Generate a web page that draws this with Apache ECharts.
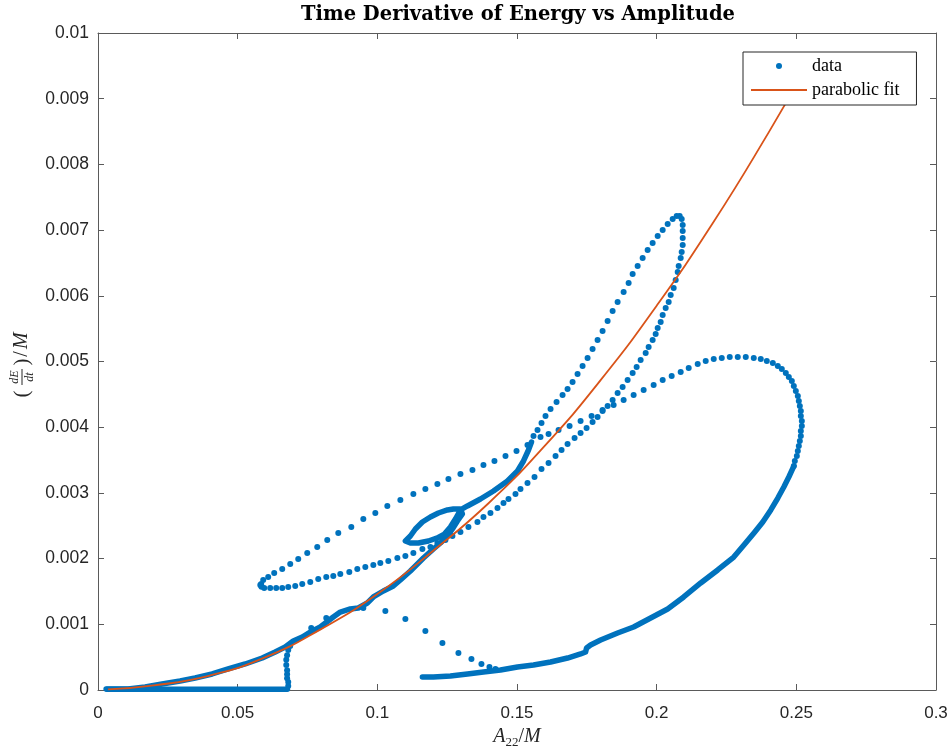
<!DOCTYPE html>
<html><head><meta charset="utf-8">
<script src="https://cdn.jsdelivr.net/npm/echarts@6/dist/echarts.min.js"></script>
<style>html,body{margin:0;padding:0;background:#fff}#c{width:949px;height:750px}</style>
</head><body><div id="c"></div>
<script>
// ---------- tick labels ----------
const xTickLabels = ['0','0.05','0.1','0.15','0.2','0.25','0.3'];
const yTickLabels = ['0','0.001','0.002','0.003','0.004','0.005','0.006','0.007','0.008','0.009','0.01'];

// ---------- parabolic fit ----------
const fitX = [0.0036,0.02,0.04,0.06,0.08,0.1,0.12,0.14,0.16,0.18,0.2,0.22,0.24,0.252];
const fitY = [0.00001,0.00007,0.00022,0.0005,0.00093,0.00146,0.00212,0.00285,0.00372,0.00472,0.00585,0.0071,0.00848,0.00937];

// ---------- data: dense stretches ----------
const flatBottom = [[0.0032,0.00001],[0.0678,0.00001]];
const mainBand = [[0.0029,0.000015],[0.0108,0.000015],[0.01685,0.000046],[0.02294,0.000091],[0.02939,0.000137],[0.03477,0.000183],[0.04086,0.000244],[0.04659,0.00032],[0.05269,0.000396],[0.05878,0.000487],[0.06344,0.000578],[0.06702,0.000654],[0.06989,0.000746],[0.07312,0.000807],[0.07599,0.000883],[0.07957,0.000959],[0.08423,0.001111],[0.08674,0.001187],[0.09032,0.001233],[0.09319,0.001248],[0.09641,0.001324],[0.09857,0.001416],[0.10215,0.001507],[0.10573,0.001583],[0.10824,0.001674],[0.11183,0.001811],[0.11649,0.002009],[0.12007,0.002146],[0.12258,0.002237],[0.12509,0.002344],[0.12688,0.002451],[0.12867,0.002572],[0.13046,0.002679],
 [0.12975,0.002755],[0.12724,0.002755],[0.12509,0.00274],[0.12186,0.002694],[0.119,0.002633],[0.11613,0.002557],[0.11362,0.002451],[0.11183,0.002344],[0.11004,0.002268],[0.11183,0.002237],[0.1147,0.002237],[0.11828,0.002268],[0.1215,0.002314],[0.12401,0.002374],[0.12616,0.002481],[0.12796,0.002603],[0.12975,0.00274],
 [0.13226,0.002801],[0.13692,0.002907],[0.14158,0.003029],[0.14659,0.003181],[0.15018,0.003333],[0.15233,0.003486],[0.15412,0.003653],[0.15519,0.003775]];
const bottomRight = [[0.2491,0.003409],[0.24731,0.003242],[0.24552,0.00309],[0.24337,0.002922],[0.24086,0.00274],[0.23799,0.002557],[0.23513,0.002405],[0.23154,0.002222],[0.2276,0.002024],[0.22186,0.001827],[0.21577,0.001629],[0.20968,0.001416],[0.20394,0.001233],[0.19785,0.001096],[0.19175,0.000959],[0.18602,0.000868],[0.17993,0.000761],[0.17634,0.000685],[0.17491,0.000639],[0.17455,0.000578],[0.17276,0.000548],[0.1681,0.000487],[0.16201,0.000426],[0.15591,0.000381],[0.15018,0.00035],[0.14409,0.000304],[0.13799,0.000274],[0.13226,0.000244],[0.12616,0.000213],[0.12007,0.000198],[0.11613,0.000198]];

// ---------- data: separate dots ----------
const verticalDots = [[0.0681,0.00006],[0.0681,0.00012],[0.0677,0.00018],[0.0677,0.00024],[0.0677,0.0003],[0.0674,0.00038],[0.0674,0.00046],[0.0677,0.00053],[0.0681,0.00061],[0.0688,0.00067]];
const upperDots = [[0.05842,0.001613],[0.05914,0.001674],[0.06093,0.00172],[0.06308,0.001781],[0.06595,0.001842],[0.06882,0.001918],[0.07168,0.001994],[0.07491,0.002085],[0.07849,0.002177],[0.08208,0.002283],[0.08602,0.00239],[0.09068,0.002481],[0.09498,0.002603],[0.09928,0.002694],[0.10358,0.002801],[0.10824,0.002892],[0.1129,0.002983],[0.1172,0.003059],[0.1215,0.003136],[0.12545,0.003212],[0.12975,0.003288],[0.13405,0.003349],[0.13799,0.003425],[0.14193,0.003486],[0.14588,0.003562],[0.14982,0.003638],[0.15376,0.003729]];
const lowerDots = [[0.0581,0.0016],[0.0585,0.00157],[0.0595,0.001553],[0.06165,0.001553],[0.0638,0.001553],[0.06595,0.001553],[0.0681,0.001568],[0.07061,0.001583],[0.07312,0.001613],[0.07599,0.001644],[0.07885,0.00169],[0.08172,0.00172],[0.08423,0.001735],[0.08674,0.001766],[0.08996,0.001796],[0.09283,0.001842],[0.0957,0.001872],[0.09857,0.001903],[0.10107,0.001933],[0.10394,0.001964],[0.10717,0.002009],[0.11004,0.00204],[0.1129,0.002085],[0.11613,0.002146],[0.119,0.002177],[0.1215,0.002237],[0.12437,0.002283],[0.12688,0.002344],[0.12975,0.002405],[0.13261,0.002481],[0.13584,0.002557],[0.13799,0.002633],[0.1405,0.002694],[0.14301,0.00277],[0.14516,0.002846],[0.14695,0.002907],[0.14946,0.002983],
 [0.15125,0.003059],[0.15376,0.003151],[0.15627,0.003242],[0.15878,0.003364],[0.16129,0.003455],[0.1638,0.003562],[0.16595,0.003653],[0.1681,0.003744],[0.17061,0.003836],[0.17276,0.003912],[0.17491,0.003988],[0.17706,0.004079],[0.17885,0.004155],[0.18064,0.004247],[0.18244,0.004323],[0.18423,0.004414],[0.18602,0.004521],[0.18781,0.004612],[0.1896,0.004719],[0.1914,0.004825],[0.19283,0.004916],[0.19426,0.005023],[0.19606,0.00513],[0.19713,0.005221],[0.19856,0.005327],[0.19964,0.005419],[0.20036,0.00551],[0.20143,0.005601],[0.20215,0.005708],[0.20322,0.005814],[0.2043,0.005906],[0.20502,0.006012],[0.20609,0.006119],[0.20681,0.006241],[0.20753,0.006362],[0.20788,0.006454],[0.2086,0.006575],[0.20896,0.006667],[0.20932,0.006773],[0.20932,0.00688],[0.20932,0.006986],[0.20932,0.007078],[0.20896,0.007169],[0.20824,0.007215]];
const leftLobeDots = [[0.20717,0.007215],[0.20573,0.007169],[0.20394,0.007093],[0.20215,0.007002],[0.20036,0.00691],[0.19856,0.006804],[0.19677,0.006697],[0.19498,0.006575],[0.19319,0.006454],[0.1914,0.006332],[0.18996,0.006195],[0.18817,0.006058],[0.18602,0.005906],[0.18423,0.005769],[0.18244,0.005617],[0.18064,0.005464],[0.17885,0.005327],[0.17706,0.00519],[0.17527,0.005053],[0.17348,0.004932],[0.17168,0.00481],[0.16989,0.004688],[0.1681,0.004582],[0.16631,0.00449],[0.16416,0.004384],[0.16201,0.004277],[0.16021,0.004171],[0.15878,0.004064],[0.15735,0.003957],[0.15591,0.003866]];
const bigLoopDots = [[0.15842,0.003851],[0.16129,0.003897],[0.16487,0.003957],[0.16882,0.004018],[0.17276,0.004094],[0.1767,0.004171],[0.18064,0.004262],[0.18459,0.004338],[0.18817,0.004414],[0.19175,0.00449],[0.19534,0.004566],[0.19892,0.004642],[0.20215,0.004719],[0.20537,0.004779],[0.2086,0.00484],[0.21147,0.004901],[0.21469,0.004962],[0.21756,0.005008],[0.22043,0.005038],[0.2233,0.005053],[0.22616,0.005069],[0.22903,0.005069],[0.2319,0.005069],[0.23476,0.005053],[0.23727,0.005038],[0.23943,0.005008],[0.24158,0.004977],[0.24337,0.004932],[0.2448,0.004886],[0.24623,0.004825],[0.24731,0.004764],[0.24839,0.004703],[0.2491,0.004627],[0.24982,0.004551],[0.25053,0.004475],[0.25089,0.004399],[0.25125,0.004323],[0.25161,0.004247],[0.25161,0.004171],[0.25197,0.004094],[0.25197,0.004018],[0.25161,0.003942],[0.25161,0.003866],[0.25125,0.00379],[0.25089,0.003714],[0.25053,0.003638],[0.25018,0.003562],[0.24946,0.003486],[0.2491,0.003409]];
const descendDots = [[0.07634,0.000944],[0.08172,0.001096],[0.09498,0.001248],[0.10287,0.001202],[0.11004,0.001081],[0.1172,0.000898],[0.1233,0.000715],[0.12903,0.000563],[0.13369,0.000472],[0.13727,0.000396],[0.14014,0.00035],[0.14229,0.00032]];

// ---------- chart ----------
const BLUE = '#0072BD', ORANGE = '#D95319', AX = '#262626';
const fitData = fitX.map((x, i) => [x, fitY[i]]);
const dots = [].concat(verticalDots, upperDots, lowerDots, leftLobeDots, bigLoopDots, descendDots);

const dense = d => ({type:'line', name:'data', data:d, symbol:'none', showSymbol:false, clip:false, z:2,
  lineStyle:{color:BLUE, width:5.5, cap:'round', join:'round', opacity:1}, itemStyle:{color:BLUE}, silent:true});

const axisCommon = {type:'value', splitLine:{show:false},
  axisLine:{show:true, onZero:false, lineStyle:{color:'#5a5a5a', width:1}},
  axisTick:{show:true, inside:true, length:6, lineStyle:{color:'#5a5a5a', width:1}}};

const chart = echarts.init(document.getElementById('c'), null, {renderer:'canvas'});
chart.setOption({
  animation:false,
  backgroundColor:'#fff',
  title:{text:'Time Derivative of Energy vs Amplitude', left:518, top:5, textAlign:'center', padding:0,
    textStyle:{fontFamily:'DejaVu Serif', fontWeight:'bold', fontSize:19.5, color:'#000'}},
  legend:{orient:'vertical', left:743, top:52, padding:[5,17,6,8], itemGap:6, itemWidth:56, itemHeight:16,
    backgroundColor:'#fff', borderColor:AX, borderWidth:1, borderRadius:0, selectedMode:false, zlevel:2, z:10,
    textStyle:{fontFamily:'Liberation Serif', fontSize:18, color:'#000'},
    data:[{name:'data', icon:'path://M0,0M56,16M31,8A3,3,0,1,1,25,8A3,3,0,1,1,31,8Z'},
          {name:'parabolic fit', icon:'path://M0,0M56,16M0,7.1L56,7.1L56,8.9L0,8.9Z'}]},
  grid:{left:98, right:13, top:33, bottom:60, containLabel:false, outerBoundsMode:'none'},
  xAxis:[
    Object.assign({}, axisCommon, {min:0, max:0.3, interval:0.05, position:'bottom',
      axisLabel:{margin:15, fontFamily:'Liberation Sans', fontSize:17, color:AX,
        formatter:v => xTickLabels[Math.round(v / 0.05)]},
      name:'{i|A}{s|22}{r|/}{i|M}', nameLocation:'middle', nameGap:32,
      nameTextStyle:{rich:{
        i:{fontFamily:'Liberation Serif', fontStyle:'italic', fontSize:20, color:AX, lineHeight:24, verticalAlign:'middle'},
        r:{fontFamily:'Liberation Serif', fontSize:20, color:AX, lineHeight:24, verticalAlign:'middle'},
        s:{fontFamily:'Liberation Serif', fontSize:13, color:AX, lineHeight:14, verticalAlign:'bottom'}}}}),
    Object.assign({}, axisCommon, {min:0, max:0.3, interval:0.05, position:'top', axisLabel:{show:false}})
  ],
  yAxis:[
    Object.assign({}, axisCommon, {min:0, max:0.01, interval:0.001, position:'left',
      axisLabel:{margin:9, fontFamily:'Liberation Sans', fontSize:17.5, color:AX,
        formatter:v => yTickLabels[Math.round(v / 0.001)]}}),
    Object.assign({}, axisCommon, {min:0, max:0.01, interval:0.001, position:'right', axisLabel:{show:false}})
  ],
  graphic:[
    {type:'rect', left:743, top:52, zlevel:1, z:50, silent:true, shape:{width:177, height:51}, style:{fill:'#fff'}},
    {type:'group', x:22, y:364, rotation:Math.PI/2, silent:true, children:[
    {type:'text', x:-30, y:0, style:{text:'(', fontFamily:'Liberation Serif', fontSize:21, fill:AX, align:'center', verticalAlign:'middle', textAlign:'center', textVerticalAlign:'middle'}},
    {type:'text', x:-13, y:-7, style:{text:'dE', fontFamily:'Liberation Serif', fontStyle:'italic', fontSize:12, fill:AX, align:'center', verticalAlign:'middle', textAlign:'center', textVerticalAlign:'middle'}},
    {type:'line', shape:{x1:-21, y1:0, x2:-5, y2:0}, style:{stroke:AX, lineWidth:1}},
    {type:'text', x:-13, y:8, style:{text:'dt', fontFamily:'Liberation Serif', fontStyle:'italic', fontSize:12, fill:AX, align:'center', verticalAlign:'middle', textAlign:'center', textVerticalAlign:'middle'}},
    {type:'text', x:2, y:0, style:{text:')', fontFamily:'Liberation Serif', fontSize:21, fill:AX, align:'center', verticalAlign:'middle', textAlign:'center', textVerticalAlign:'middle'}},
    {type:'text', x:10, y:0, style:{text:'/', fontFamily:'Liberation Serif', fontSize:20, fill:AX, align:'center', verticalAlign:'middle', textAlign:'center', textVerticalAlign:'middle'}},
    {type:'text', x:15, y:0, style:{text:'M', fontFamily:'Liberation Serif', fontStyle:'italic', fontSize:20, fill:AX, align:'left', verticalAlign:'middle', textAlign:'left', textVerticalAlign:'middle'}}
  ]}],
  series:[
    {type:'scatter', name:'data', data:dots, symbol:'circle', symbolSize:6, itemStyle:{color:BLUE, opacity:1}, clip:false, z:2, silent:true},
    dense(flatBottom), dense(mainBand), dense(bottomRight),
    {type:'line', name:'parabolic fit', data:fitData, smooth:true, symbol:'none', showSymbol:false, clip:true, z:3, silent:true,
      lineStyle:{color:ORANGE, width:1.8}, itemStyle:{color:ORANGE}}
  ]
});
</script>
</body></html>
